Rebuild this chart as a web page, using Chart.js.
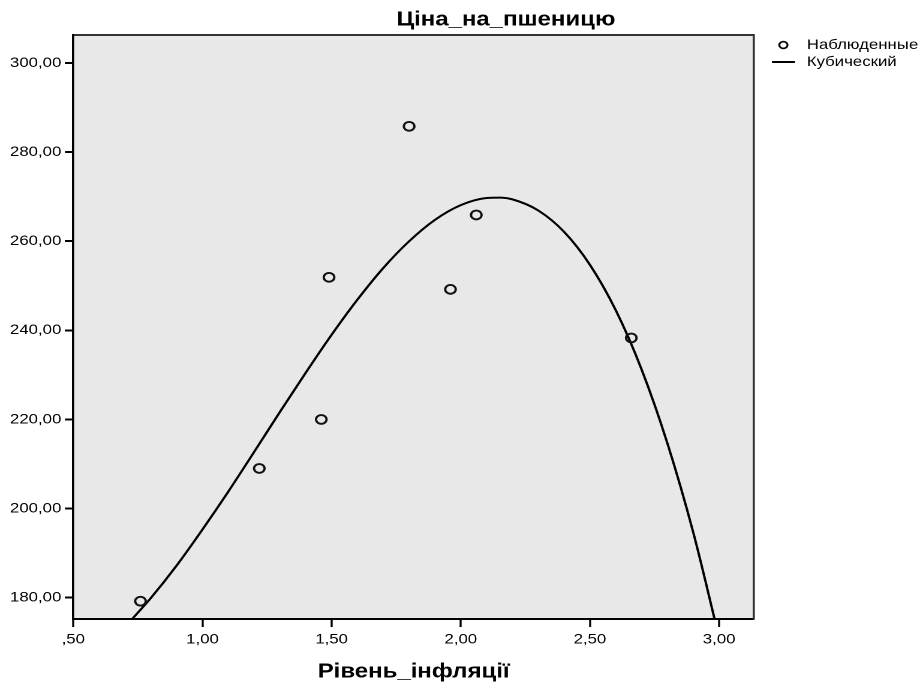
<!DOCTYPE html>
<html lang="uk">
<head>
<meta charset="utf-8">
<title>Ціна_на_пшеницю</title>
<script src="https://cdn.jsdelivr.net/npm/chart.js@4.4.1/dist/chart.umd.min.js"></script>
<style>
    html, body { margin: 0; padding: 0; background: #ffffff; }
    #chart { display: block; }
</style>
</head>
<body>
<!-- The source picture is stretched sideways (its round markers show as ovals),
     so the canvas is laid out 767px wide and widened to 920px by an inline style
     (inline, so Chart.js leaves it alone). -->
<canvas id="chart" width="767" height="688" style="width:920px;height:688px"></canvas>
<script>
// ─── Data ─────────────────────────────────────────────────────────────────────

const observedX = [0.76, 1.22, 1.46, 1.49, 1.80, 1.96, 2.06, 2.66];
const observedY = [179.2, 209.0, 220.0, 251.9, 285.8, 249.2, 265.9, 238.3];

// cubic fit line
const cubicX = [0.72, 0.80, 0.90, 1.00, 1.10, 1.20, 1.30, 1.40, 1.50, 1.60, 1.70, 1.80,
                1.90, 2.00, 2.10, 2.15, 2.20, 2.30, 2.40, 2.50, 2.60, 2.70, 2.80, 2.90, 2.99];
const cubicY = [174.7, 179.9, 187.2, 195.3, 203.8, 212.7, 221.7, 230.5, 239.0, 246.9, 254.0, 260.0,
                264.8, 268.1, 269.7, 269.8, 269.4, 266.9, 262.1, 254.7, 244.5, 231.2, 214.6, 194.6, 173.4];

const xTicks = [0.5, 1.0, 1.5, 2.0, 2.5, 3.0];
const yTicks = [180, 200, 220, 240, 260, 280, 300];

const chartTitle = "Ціна_на_пшеницю";
const xTitle = "Рівень_інфляції";
const seriesLabels = ["Наблюденные", "Кубический"];

// ─── Helpers ──────────────────────────────────────────────────────────────────

const FONT = "Arial, 'Liberation Sans', sans-serif";
Chart.defaults.font.family = FONT;
Chart.defaults.color = "#000";

// SPSS style: comma decimals, no leading zero (",50")
const fmt = (v) => Number(v).toFixed(2).replace(".", ",").replace(/^0,/, ",");

// small legend symbols, painted at 3x so they stay sharp
function glyph(w, h, paint) {
    const c = document.createElement("canvas");
    c.width = w * 3;
    c.height = h * 3;
    const g = c.getContext("2d");
    g.scale(3, 3);
    paint(g);
    const img = new Image(w, h);
    img.src = c.toDataURL();
    return img;
}

const dotGlyph = glyph(12, 12, (g) => {
    g.strokeStyle = "#000";
    g.lineWidth = 1.6;
    g.beginPath();
    g.arc(6, 6, 3.4, 0, Math.PI * 2);
    g.stroke();
});

const lineGlyph = glyph(20, 6, (g) => {
    g.strokeStyle = "#000";
    g.lineWidth = 2;
    g.beginPath();
    g.moveTo(0.4, 3);
    g.lineTo(19.6, 3);
    g.stroke();
});

// ─── Plugins ──────────────────────────────────────────────────────────────────

const plotBackdrop = {
    id: "plotBackdrop",
    beforeDraw(chart) {
        const { ctx, chartArea: a } = chart;
        ctx.save();
        ctx.fillStyle = "#e8e8e8";
        ctx.fillRect(a.left, a.top, a.right - a.left, a.bottom - a.top);
        ctx.restore();
    },
};

// title sits right of the plot centre in the original, so it is placed by hand
const headline = {
    id: "headline",
    afterDraw(chart) {
        const { ctx } = chart;
        ctx.save();
        ctx.font = `bold 20px ${FONT}`;
        ctx.fillStyle = "#000";
        ctx.textAlign = "center";
        ctx.textBaseline = "alphabetic";
        ctx.fillText(chartTitle, 421.8, 25.5);
        ctx.restore();
    },
};

// ─── Chart ────────────────────────────────────────────────────────────────────

function draw() {
    new Chart(document.getElementById("chart"), {
        type: "scatter",
        data: {
            datasets: [
                {
                    label: seriesLabels[0],
                    data: observedX.map((x, i) => ({ x, y: observedY[i] })),
                    showLine: false,
                    pointStyle: "circle",
                    pointRadius: 4.4,
                    pointHoverRadius: 4.4,
                    pointBorderWidth: 1.9,
                    pointBorderColor: "#111",
                    pointBackgroundColor: "rgba(0,0,0,0)",
                },
                {
                    label: seriesLabels[1],
                    data: cubicX.map((x, i) => ({ x, y: cubicY[i] })),
                    showLine: true,
                    fill: false,
                    borderColor: "#000",
                    borderWidth: 2,
                    pointRadius: 0,
                    pointHoverRadius: 0,
                    cubicInterpolationMode: "monotone",
                },
            ],
        },
        options: {
            responsive: false,
            devicePixelRatio: 2,
            animation: false,
            events: [],
            layout: { padding: 0 },
            plugins: {
                tooltip: { enabled: false },
                legend: {
                    position: "right",
                    align: "start",
                    maxWidth: 129.4,
                    title: { display: true, text: " ", font: { size: 14 }, padding: { top: 18.2, bottom: 0 } },
                    labels: {
                        usePointStyle: true,
                        pointStyleWidth: 25,
                        padding: 3,
                        color: "#000",
                        font: { size: 14 },
                        generateLabels: () => [
                            { text: seriesLabels[0], pointStyle: dotGlyph, fillStyle: "rgba(0,0,0,0)",
                              strokeStyle: "#000", lineWidth: 0, fontColor: "#000", hidden: false, datasetIndex: 0 },
                            { text: seriesLabels[1], pointStyle: lineGlyph, fillStyle: "rgba(0,0,0,0)",
                              strokeStyle: "#000", lineWidth: 0, fontColor: "#000", hidden: false, datasetIndex: 1 },
                        ],
                    },
                },
            },
            scales: {
                x: {
                    type: "linear",
                    position: "bottom",
                    min: 0.5,
                    max: 3.135,
                    afterBuildTicks: (s) => { s.ticks = xTicks.map((value) => ({ value })); },
                    afterFit: (s) => { s.height = 69; },
                    grid: { drawOnChartArea: false, tickLength: 8, tickWidth: 1.7, tickColor: "#000" },
                    border: { display: true, color: "#000", width: 2 },
                    ticks: {
                        padding: 4,
                        color: "#000",
                        font: { size: 14 },
                        maxRotation: 0,
                        autoSkip: false,
                        callback: (v) => fmt(v),
                    },
                    title: {
                        display: true,
                        text: xTitle,
                        color: "#000",
                        font: { size: 20, weight: "bold" },
                        padding: { top: 0, bottom: 4 },
                    },
                },
                // top and right frame edges; the top one also holds the title band
                x2: {
                    type: "linear",
                    position: "top",
                    min: 0.5,
                    max: 3.135,
                    afterFit: (s) => { s.height = 35; },
                    ticks: { display: false },
                    grid: { display: false },
                    border: { display: true, color: "#333", width: 2 },
                },
                y: {
                    type: "linear",
                    position: "left",
                    min: 175.2,
                    max: 306.3,
                    afterBuildTicks: (s) => { s.ticks = yTicks.map((value) => ({ value })); },
                    afterFit: (s) => { s.width = 61.1; },
                    grid: { drawOnChartArea: false, tickLength: 7, tickWidth: 2, tickColor: "#000" },
                    border: { display: true, color: "#000", width: 1.8 },
                    ticks: {
                        padding: 3,
                        color: "#000",
                        font: { size: 14 },
                        callback: (v) => fmt(v),
                    },
                },
                y2: {
                    type: "linear",
                    position: "right",
                    min: 175.2,
                    max: 306.3,
                    afterFit: (s) => { s.width = 9; },
                    ticks: { display: false },
                    grid: { display: false },
                    border: { display: true, color: "#333", width: 1.8 },
                },
            },
        },
        plugins: [plotBackdrop, headline],
    });
}

Promise.allSettled([dotGlyph.decode(), lineGlyph.decode()]).then(draw);
</script>
</body>
</html>
